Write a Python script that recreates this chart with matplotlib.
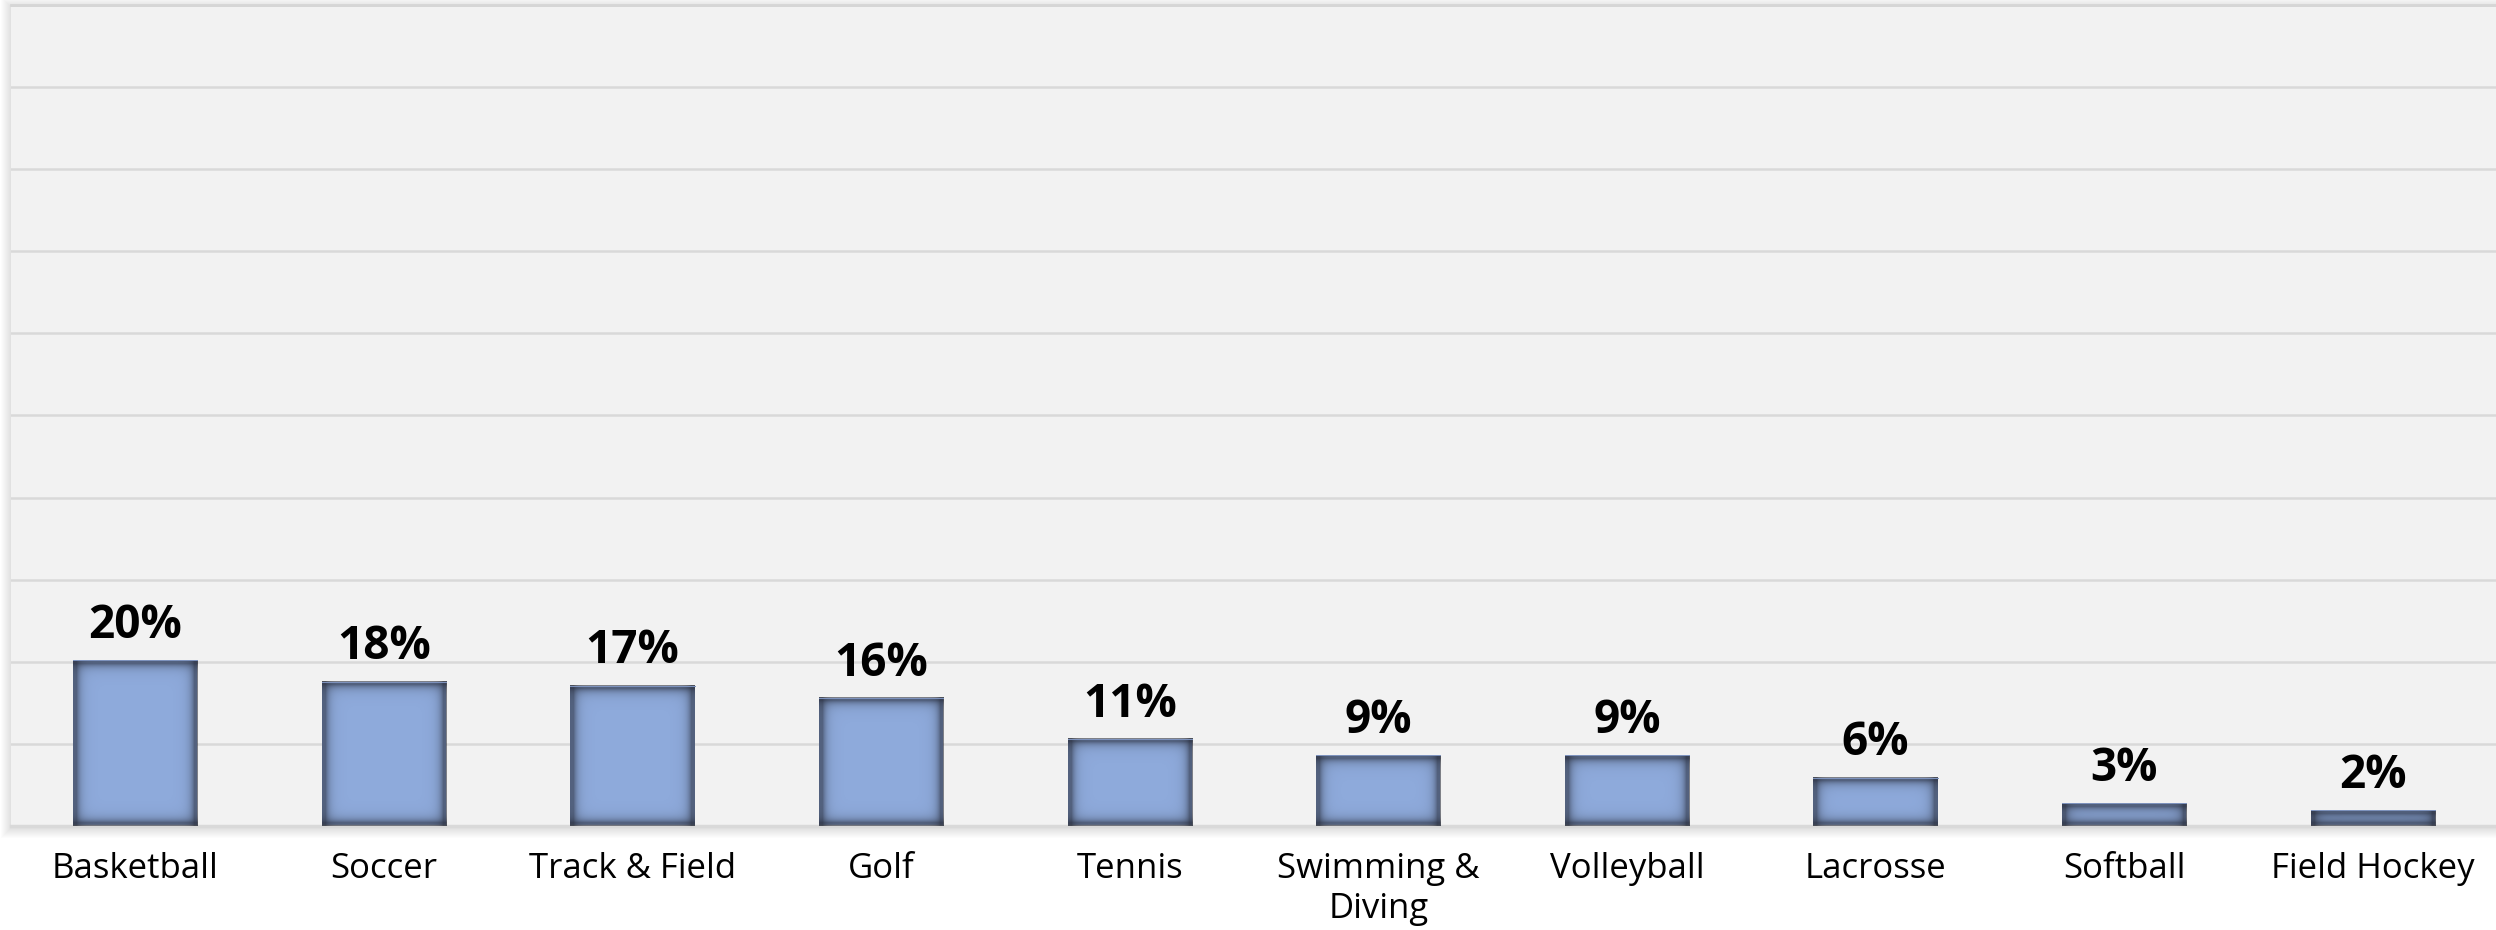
import numpy as np
import matplotlib.pyplot as plt
from matplotlib.patches import Rectangle

# share of respondents per sport (%)
sports = ['Basketball', 'Soccer', 'Track & Field', 'Golf', 'Tennis',
          'Swimming &\nDiving', 'Volleyball', 'Lacrosse', 'Softball', 'Field Hockey']
shares = [20.2, 17.6, 17.1, 15.6, 10.6, 8.6, 8.6, 5.9, 2.8, 1.9]

W, H, DPI = 2496, 930, 100
plt.rcParams['font.family'] = ['Open Sans', 'DejaVu Sans']

fig = plt.figure(figsize=(W / DPI, H / DPI), dpi=DPI)

# plot area in pixels: left 11, top 5, right 2497, bottom 826
left, top, right, bottom = 11, 5, 2497, 826
ax_rect = [left / W, (H - bottom) / H, (right - left) / W, (bottom - top) / H]

# soft outer shadow around the plot area
for i in range(1, 11):
    fig.patches.append(Rectangle(
        ((left - i) / W, (H - bottom - i - 2) / H),
        (right - left + 2 * i) / W, (bottom - top + 2 * i) / H,
        transform=fig.transFigure, facecolor='black', alpha=0.012,
        edgecolor='none', zorder=0))

ax = fig.add_axes(ax_rect, zorder=1)
ax.set_facecolor('#f2f2f2')
ax.set_xlim(-0.5, len(sports) - 0.5)
ax.set_ylim(0, 100)
ax.set_yticks(np.arange(0, 101, 10))
ax.yaxis.grid(True, color='#d9d9d9', linewidth=1.8)
ax.set_axisbelow(True)
ax.tick_params(axis='y', left=False, labelleft=False)
for s in ['left', 'right']:
    ax.spines[s].set_visible(False)
ax.spines['top'].set_color('#d6d6d6')
ax.spines['top'].set_linewidth(2)
ax.spines['bottom'].set_color('#d9d9d9')
ax.spines['bottom'].set_linewidth(2.5)

x = np.arange(len(sports))
bars = ax.bar(x, shares, width=0.5, color='#8eaadb', edgecolor='none', zorder=2)

ax.set_xticks(x)
ax.set_xticklabels(sports, fontsize=25, linespacing=1.2)
ax.tick_params(axis='x', length=0, pad=19)


def shade(d):
    # darkness of the inner shadow at d pixels from an edge
    return np.minimum(0.56, 1.35 * np.exp(-d / 4.2))


# inner shadow on each bar, drawn as an RGBA overlay sized in pixels
px_x = (right - left) / len(sports)   # pixels per x data unit
px_y = (bottom - top) / 100.0         # pixels per y data unit
for b in bars:
    bw = int(round(b.get_width() * px_x))
    bh = max(int(round(b.get_height() * px_y)), 2)
    yy, xx = np.mgrid[0:bh, 0:bw] + 0.5
    keep = np.ones((bh, bw))
    for d in (xx, bw - xx, yy, bh - yy):
        keep *= 1 - shade(d)
    img = np.zeros((bh, bw, 4))
    img[..., 0], img[..., 1], img[..., 2] = 0.145, 0.16, 0.21
    img[..., 3] = 1 - keep
    ax.imshow(img, extent=(b.get_x(), b.get_x() + b.get_width(), 0, b.get_height()),
              aspect='auto', interpolation='nearest', zorder=3)
    # thin light rim on top
    ax.plot([b.get_x(), b.get_x() + b.get_width()], [b.get_height()] * 2,
            color='#7d92bd', linewidth=0.72, zorder=3.5)

ax.set_xlim(-0.5, len(sports) - 0.5)
ax.set_ylim(0, 100)

for b, v in zip(bars, shares):
    ax.annotate(f'{v:.0f}%', (b.get_x() + b.get_width() / 2, b.get_height()),
                xytext=(0, 16), textcoords='offset points', ha='center',
                va='baseline', fontsize=33, fontweight='bold', zorder=4)

fig.savefig('out.png', dpi=DPI)
